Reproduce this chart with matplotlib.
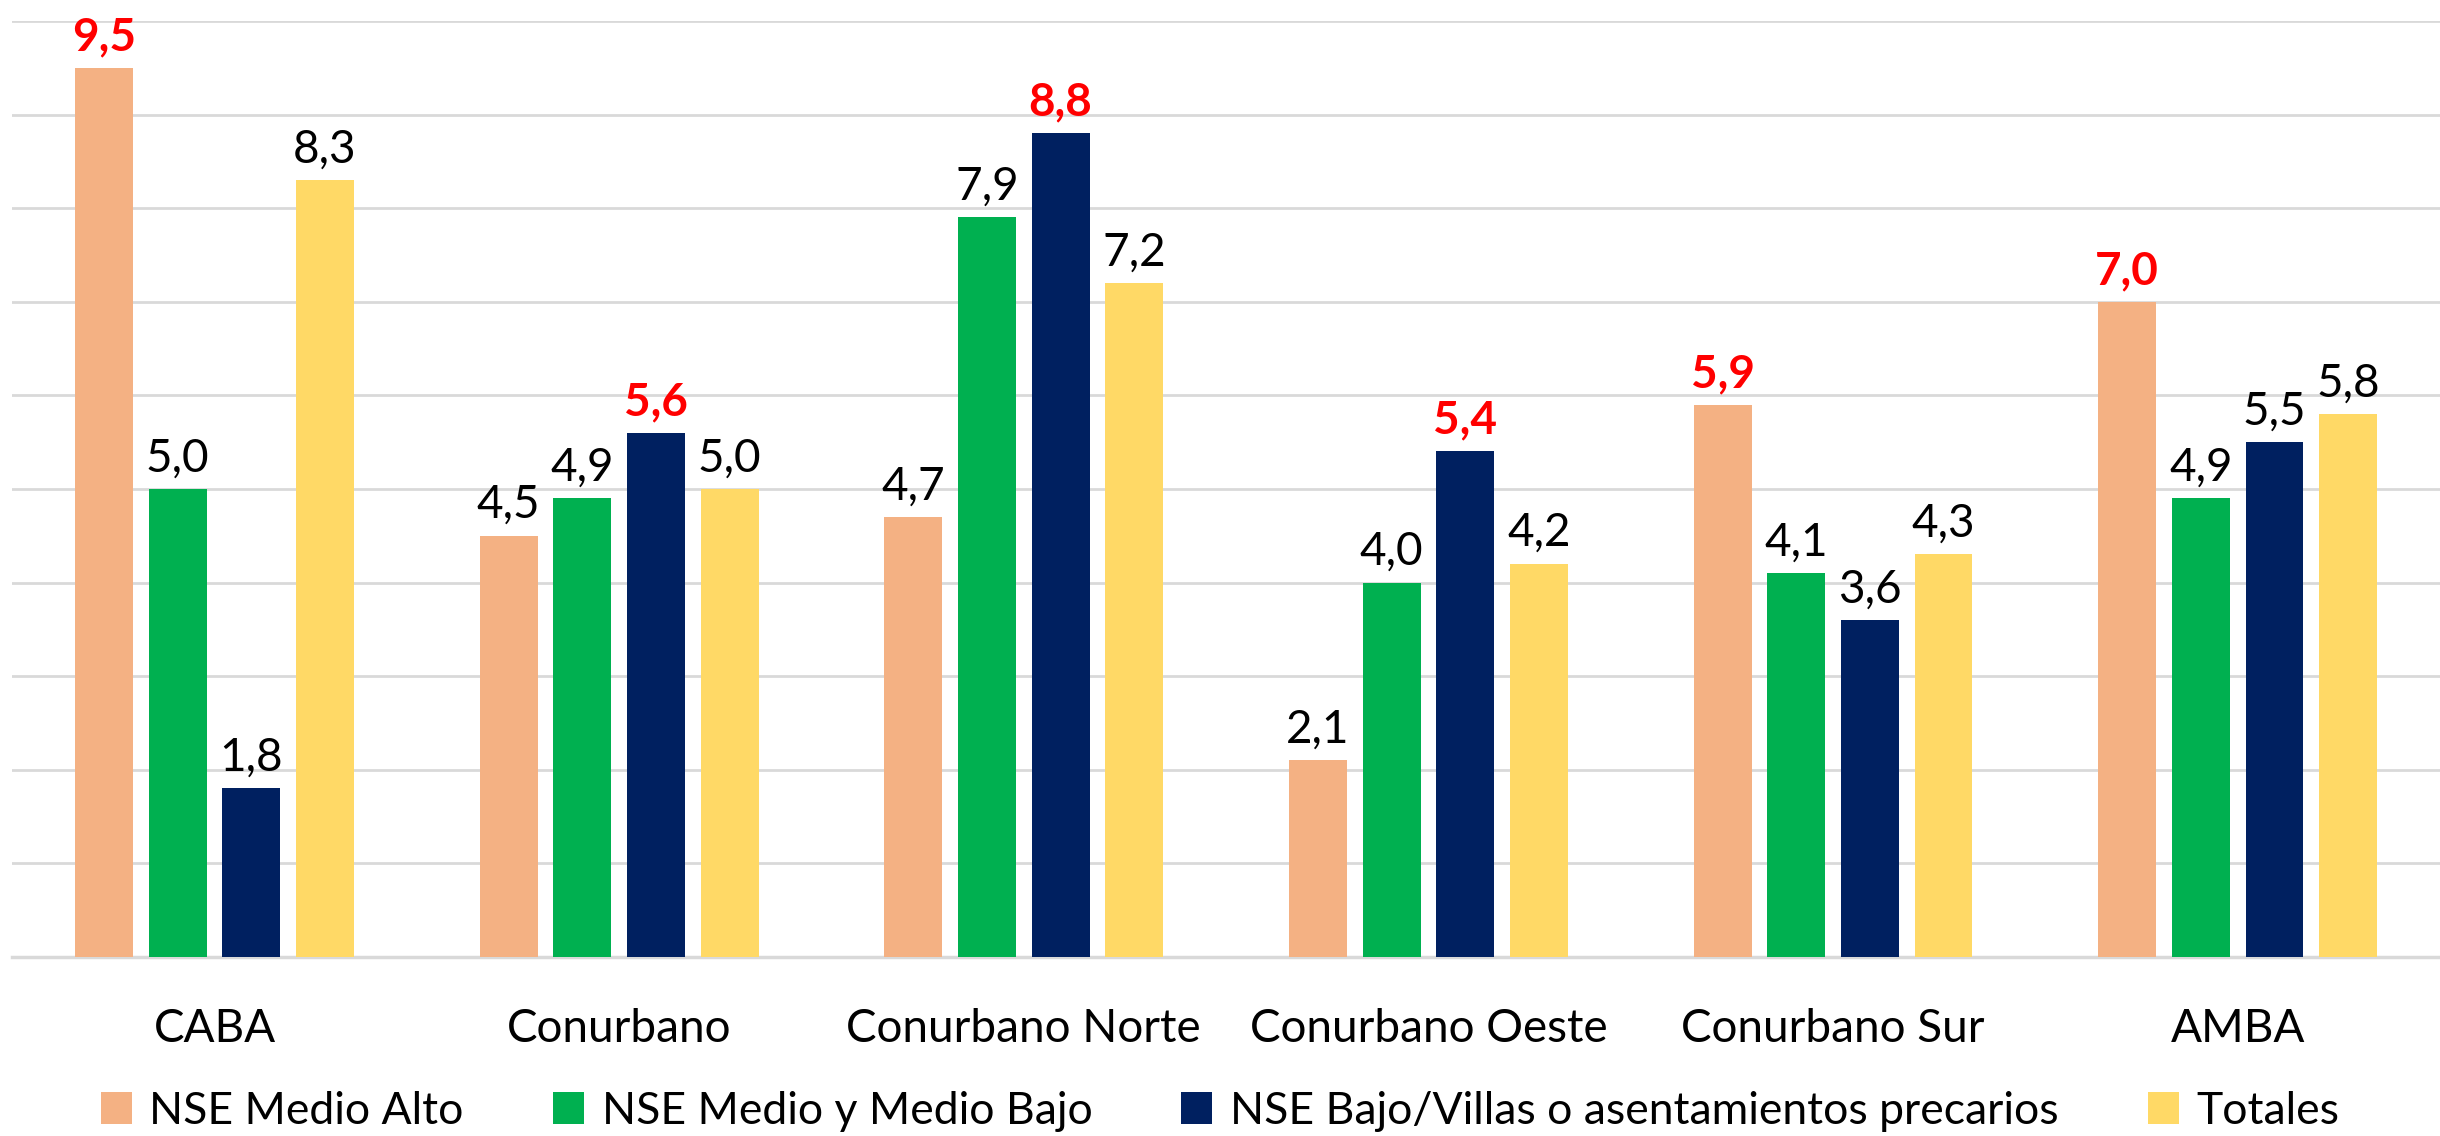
import numpy as np
import matplotlib.pyplot as plt

plt.rcParams['font.family'] = ['Lato', 'DejaVu Sans']

categories = ['CABA', 'Conurbano', 'Conurbano Norte', 'Conurbano Oeste', 'Conurbano Sur', 'AMBA']
series_names = ['NSE Medio Alto', 'NSE Medio y Medio Bajo',
                'NSE Bajo/Villas o asentamientos precarios', 'Totales']
medio_alto = [9.5, 4.5, 4.7, 2.1, 5.9, 7.0]
medio_bajo = [5.0, 4.9, 7.9, 4.0, 4.1, 4.9]
bajo_villas = [1.8, 5.6, 8.8, 5.4, 3.6, 5.5]
totales = [8.3, 5.0, 7.2, 4.2, 4.3, 5.8]

colors = ['#F4B183', '#00B050', '#002060', '#FFD966']
series = [medio_alto, medio_bajo, bajo_villas, totales]

fig = plt.figure(figsize=(24.4, 11.36), dpi=100)
ax = fig.add_axes([0.005, 0.1576, 0.995, 0.824])

x = np.arange(len(categories))
width = 0.143
pitch = 0.182

data = np.array(series)
max_per_group = data.max(axis=0)

for i, (vals, col, name) in enumerate(zip(series, colors, series_names)):
    pos = x + (i - 1.5) * pitch
    ax.bar(pos, vals, width, color=col, label=name, zorder=3)
    for xp, v, m in zip(pos, vals, max_per_group):
        txt = f'{v:.1f}'.replace('.', ',')
        if v == m:
            ax.annotate(txt, (xp, v), xytext=(0, 7), textcoords='offset points',
                        ha='center', va='bottom', fontsize=33, color='#FF0000',
                        fontweight='bold')
        else:
            ax.annotate(txt, (xp, v), xytext=(0, 7), textcoords='offset points',
                        ha='center', va='bottom', fontsize=33, color='black')

ax.set_xlim(-0.5, len(categories) - 0.5)
ax.set_ylim(0, 10)
ax.set_yticks(np.arange(0, 11, 1))
ax.set_yticklabels([])
ax.tick_params(axis='y', length=0)
ax.set_xticks(x)
ax.set_xticklabels(categories, fontsize=33)
ax.tick_params(axis='x', length=0, pad=37)
ax.grid(axis='y', color='#D9D9D9', linewidth=2, zorder=0)
for s in ['top', 'right', 'left']:
    ax.spines[s].set_visible(False)
ax.spines['bottom'].set_color('#D9D9D9')
ax.spines['bottom'].set_linewidth(2.5)

fig.legend(loc='center', bbox_to_anchor=(0.5, 0.022), ncol=4, frameon=False,
           fontsize=32, handlelength=0.7, handleheight=0.7, handletextpad=0.4,
           columnspacing=2.0)

fig.savefig('out.png', dpi=100)
